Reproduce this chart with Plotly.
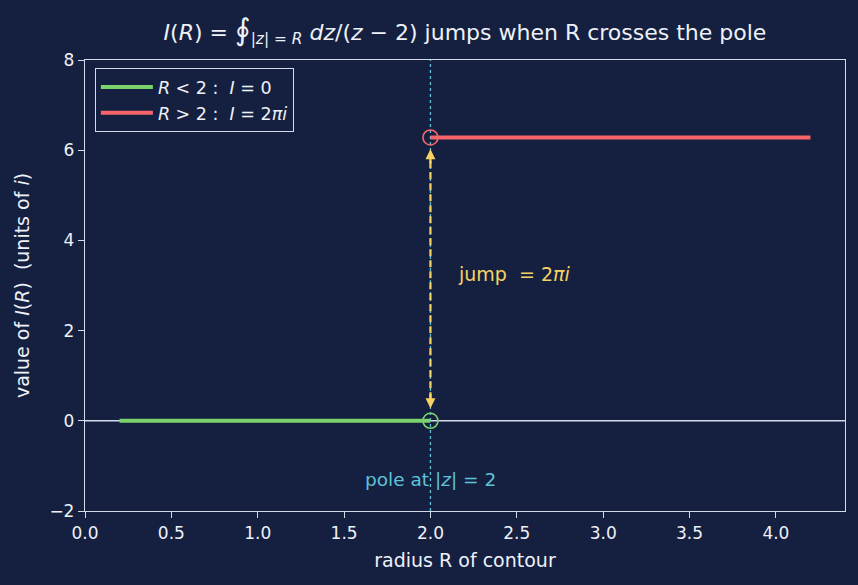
import numpy as np
import plotly.graph_objects as go

# data
R_below = [0.2, 2.0]
I_below = [0.0, 0.0]
R_above = [2.0, 4.2]
I_above = [2 * np.pi, 2 * np.pi]
pole_R = 2.0
jump_lo, jump_hi = 0.28, 6.02
x_ticks = [0.0, 0.5, 1.0, 1.5, 2.0, 2.5, 3.0, 3.5, 4.0]
y_ticks = [-2, 0, 2, 4, 6, 8]

BG = "#152040"
FG = "#eef1f7"
AX = "#d4dae8"
GREEN = "#7ad36c"
RED = "#f7656b"
YEL = "#f6d262"
CYAN = "#5ec3d8"
FONT = "DejaVu Sans"

fig = go.Figure()

# y=0 reference line
fig.add_shape(type="line", xref="paper", yref="y", x0=0, x1=1, y0=0, y1=0,
              line=dict(color=AX, width=1.5), layer="below")
# pole line
fig.add_shape(type="line", xref="x", yref="paper", x0=pole_R, x1=pole_R, y0=0, y1=1,
              line=dict(color=CYAN, width=1.3, dash="dot"), layer="below")

fig.add_trace(go.Scatter(x=R_below, y=I_below, mode="lines",
                         line=dict(color=GREEN, width=4),
                         name="<i>R</i> &lt; 2 :  <i>I</i> = 0"))
fig.add_trace(go.Scatter(x=R_above, y=I_above, mode="lines",
                         line=dict(color=RED, width=4),
                         name="<i>R</i> &gt; 2 :  <i>I</i> = 2<i>πi</i>"))
fig.add_trace(go.Scatter(x=[pole_R], y=[I_below[0]], mode="markers", showlegend=False,
                         marker=dict(size=15, color="rgba(0,0,0,0)", line=dict(color=GREEN, width=1.6))))
fig.add_trace(go.Scatter(x=[pole_R], y=[I_above[0]], mode="markers", showlegend=False,
                         marker=dict(size=15, color="rgba(0,0,0,0)", line=dict(color=RED, width=1.6))))

# dashed jump arrow
fig.add_trace(go.Scatter(x=[pole_R, pole_R], y=[jump_lo + 0.2, jump_hi - 0.2], mode="lines",
                         showlegend=False, line=dict(color=YEL, width=2.2, dash="7px,4px")))
for tip, tail in [(jump_hi, jump_hi - 0.35), (jump_lo, jump_lo + 0.35)]:
    fig.add_annotation(x=pole_R, y=tip, ax=pole_R, ay=tail, xref="x", yref="y",
                       axref="x", ayref="y", text="", showarrow=True,
                       arrowhead=2, arrowsize=0.9, arrowwidth=2.2, arrowcolor=YEL)

fig.add_annotation(x=2.15, y=3.25, xref="x", yref="y", text="jump  = 2<i>πi</i>",
                   showarrow=False, xanchor="left", yanchor="middle",
                   font=dict(family=FONT, size=19, color=YEL))
fig.add_annotation(x=pole_R, y=-1.3, xref="x", yref="y", text="pole at |<i>z</i>| = 2",
                   showarrow=False, xanchor="center", yanchor="middle",
                   font=dict(family=FONT, size=18.5, color=CYAN))

axis_common = dict(showline=True, linecolor=AX, linewidth=1.3, mirror=True,
                   ticks="outside", tickcolor=AX, ticklen=6, tickwidth=1.3,
                   showgrid=False, zeroline=False,
                   tickfont=dict(family=FONT, size=17, color=FG))

fig.update_layout(
    width=858, height=585,
    margin=dict(l=85, r=13, t=60, b=74),
    paper_bgcolor=BG, plot_bgcolor=BG,
    font=dict(family=FONT, color=FG, size=16),
    title=dict(text="<i>I</i>(<i>R</i>) = <span style=\"font-size:30px\">∮</span><sub>|<i>z</i>| = <i>R</i></sub> <i>dz</i>/(<i>z</i> − 2) jumps when R crosses the pole",
               x=0.5, xref="paper", xanchor="center", y=0.945, yanchor="middle",
               font=dict(family=FONT, size=22, color=FG)),
    xaxis=dict(range=[0, 4.4], tickvals=x_ticks, tickformat=".1f",
               title=dict(text="radius R of contour", font=dict(family=FONT, size=19, color=FG), standoff=12),
               **axis_common),
    yaxis=dict(range=[-2, 8], tickvals=y_ticks,
               title=dict(text="value of <i>I</i>(<i>R</i>)  (units of <i>i</i>)",
                          font=dict(family=FONT, size=19, color=FG), standoff=14),
               **axis_common),
    legend=dict(x=0.013, y=0.982, xanchor="left", yanchor="top",
                bgcolor=BG, bordercolor=AX, borderwidth=1, itemwidth=52,
                font=dict(family=FONT, size=17.5, color=FG), tracegroupgap=0),
    showlegend=True,
)

fig.write_html("out.html")
